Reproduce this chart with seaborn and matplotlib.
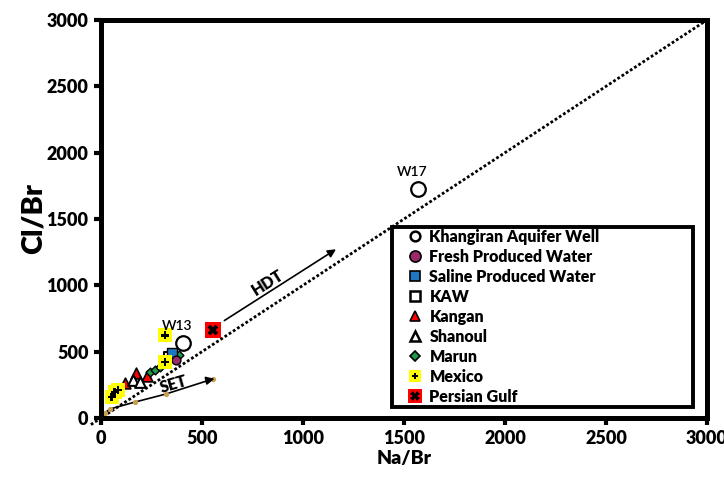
import numpy as np
import pandas as pd
import seaborn as sns
import matplotlib.pyplot as plt
from matplotlib.lines import Line2D
from matplotlib.patches import Rectangle
from matplotlib.legend_handler import HandlerTuple

# values (Na/Br, Cl/Br)
kaw_well_x = [1569, 406]
kaw_well_y = [1726, 565]
fresh_x = [372]
fresh_y = [440]
saline_x = [351]
saline_y = [490]
kaw_x = [336]
kaw_y = [462]
kangan_x = [119, 173, 228]
kangan_y = [264, 339, 317]
shanoul_x = [158, 193]
shanoul_y = [286, 271]
marun_x = [243, 267, 292, 386]
marun_y = [347, 362, 384, 475]
mexico_x = [54, 69, 84, 317, 317]
mexico_y = [158, 196, 211, 422, 625]
gulf_x = [554]
gulf_y = [663]

set_x = [20, 45, 168, 322, 554]
set_y = [40, 68, 120, 181, 294]

sns.set_style('white')
plt.rcParams['font.family'] = ['Lato', 'DejaVu Sans']
plt.rcParams['text.color'] = 'black'
plt.rcParams['axes.labelcolor'] = 'black'
plt.rcParams['xtick.color'] = 'black'
plt.rcParams['ytick.color'] = 'black'
W = 'heavy'

fig = plt.figure(figsize=(7.24, 4.82), dpi=100)
ax = fig.add_axes([0.1395, 0.1328, 0.837, 0.8257])

# 1:1 line
ax.plot([-50, 3000], [-50, 3000], ls=(0, (1, 0.8)), color='black', lw=2, clip_on=False, zorder=1)

# SET trend
sns.lineplot(x=set_x, y=set_y, ax=ax, color='black', lw=1.2, marker='o', markersize=3,
             markerfacecolor='#c8a050', markeredgecolor='#c8a050', sort=False, zorder=2)
ax.annotate('', xy=(575, 300), xytext=(520, 281),
            arrowprops=dict(arrowstyle='-|>', color='black', lw=1.2, mutation_scale=12))
ax.text(360, 251, 'SET', rotation=16, fontsize=11.5, fontweight=W, ha='center', va='center')

# HDT arrow
ax.annotate('', xy=(1175, 1283), xytext=(599, 723),
            arrowprops=dict(arrowstyle='-|>', color='black', lw=1.2, mutation_scale=12))
ax.text(825, 1017, 'HDT', rotation=32, fontsize=11.5, fontweight=W, ha='center', va='center')

def pts(x, y):
    return pd.DataFrame({'Na/Br': x, 'Cl/Br': y})

kw = dict(x='Na/Br', y='Cl/Br', ax=ax, legend=False, zorder=3)
sns.scatterplot(data=pts(kangan_x, kangan_y), marker='^', s=60, color='red', edgecolor='black', linewidth=1.2, **kw)
sns.scatterplot(data=pts(shanoul_x, shanoul_y), marker='^', s=60, color='white', edgecolor='black', linewidth=1.5, **kw)
sns.scatterplot(data=pts(marun_x, marun_y), marker='D', s=20, color='#1f9a4a', edgecolor='black', linewidth=1, **kw)
sns.scatterplot(data=pts(kaw_x, kaw_y), marker='s', s=60, color='white', edgecolor='black', linewidth=1.5, **kw)
sns.scatterplot(data=pts(saline_x, saline_y), marker='s', s=60, color='#1f77c4', edgecolor='black', linewidth=1, **kw)
sns.scatterplot(data=pts(fresh_x, fresh_y), marker='o', s=40, color='#9b2a6a', edgecolor='black', linewidth=1, **kw)
sns.scatterplot(data=pts(kaw_well_x, kaw_well_y), marker='o', s=110, color='white', edgecolor='black', linewidth=1.6, **kw)
sns.scatterplot(data=pts(mexico_x, mexico_y), marker='s', s=100, color='#ffff00', edgecolor='none', **kw)
sns.scatterplot(data=pts(mexico_x, mexico_y), marker='P', s=40, color='black', edgecolor='none', **kw)
sns.scatterplot(data=pts(gulf_x, gulf_y), marker='s', s=120, color='red', edgecolor='none', **kw)
sns.scatterplot(data=pts(gulf_x, gulf_y), marker='X', s=60, color='black', edgecolor='none', **kw)

ax.text(1540, 1854, 'W17', fontsize=10, fontweight='semibold', ha='center', va='center')
ax.text(375, 693, 'W13', fontsize=10, fontweight='semibold', ha='center', va='center')

ax.set_xlim(0, 3000)
ax.set_ylim(0, 3000)
ax.set_xticks(np.arange(0, 3001, 500))
ax.set_yticks(np.arange(0, 3001, 500))
for lbl in ax.get_xticklabels() + ax.get_yticklabels():
    lbl.set_fontweight(W)
ax.tick_params(axis='both', which='major', direction='out', length=5, width=3,
               labelsize=13, color='black', bottom=True, left=True, pad=4)
for sp in ax.spines.values():
    sp.set_linewidth(3.6)
    sp.set_color('black')
ax.set_xlabel('Na/Br', fontsize=14, fontweight=W, labelpad=2)
ax.set_ylabel('Cl/Br', fontsize=21, fontweight=W, labelpad=0)

def mk(marker, fc, ms=7, ec='black', mew=1.2):
    return Line2D([], [], ls='none', marker=marker, markersize=ms, markerfacecolor=fc,
                  markeredgecolor=ec, markeredgewidth=mew)

handles = [
    mk('o', 'white', 7, mew=1.8),
    mk('o', '#9b2a6a', 8),
    mk('s', '#1f77c4', 7),
    mk('s', 'white', 7, mew=1.8),
    mk('^', 'red', 7),
    mk('^', 'white', 7, mew=1.8),
    mk('D', '#1f9a4a', 5),
    (mk('s', '#ffff00', 9, ec='none'), mk('P', 'black', 5, ec='none')),
    (mk('s', 'red', 10, ec='none'), mk('X', 'black', 7, ec='none')),
]
labels = ['Khangiran Aquifer Well', 'Fresh Produced Water', 'Saline Produced Water', 'KAW',
          'Kangan', 'Shanoul', 'Marun', 'Mexico', 'Persian Gulf']
leg = ax.legend(handles, labels, handler_map={tuple: HandlerTuple(ndivide=1, pad=0)},
                loc='upper left', bbox_to_anchor=(0.505, 0.475),
                prop={'weight': W, 'size': 11.5}, frameon=False,
                handlelength=1.0, handletextpad=0.4, labelspacing=0.25,
                borderpad=0, borderaxespad=0)
leg.set_zorder(5)
# legend box
ax.add_patch(Rectangle((0.48, 0.0276), 0.497, 0.4524, transform=ax.transAxes,
                       facecolor='white', edgecolor='black', lw=2.8, zorder=4))

fig.savefig('out.png', dpi=100)
